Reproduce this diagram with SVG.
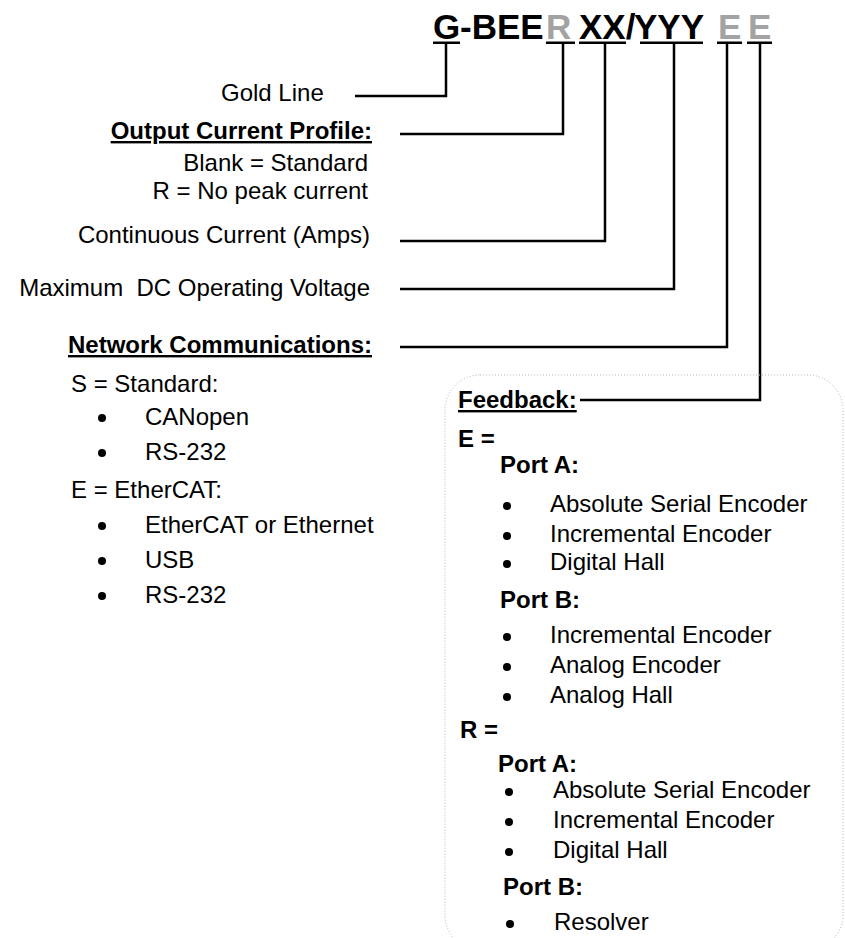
<svg xmlns="http://www.w3.org/2000/svg" width="845" height="938" viewBox="0 0 845 938">
<style>
  text { font-family: "Liberation Sans", Arial, sans-serif; fill: #000; }
  .t { font-size: 24px; }
  .b { font-size: 24px; font-weight: bold; }
  .u { text-decoration: underline; }
  .r { text-anchor: end; }
  .title { font-size: 35px; font-weight: bold; }
  .gray { fill: #a3a3a3; }
  .conn { fill: none; stroke: #000; stroke-width: 2.5; }
  .ul { fill: #000; }
  .box { fill: none; stroke: #b5b5b5; stroke-width: 1; stroke-dasharray: 1 2; }
  .dot { fill: #000; }
</style>
<rect width="845" height="938" fill="#fff"/>

<g id="code">
  <text class="title" x="433" y="39">G</text>
  <text class="title" x="460" y="39">-BEE</text>
  <text class="title gray" x="546" y="39">R</text>
  <text class="title" x="579" y="39">XX/</text>
  <text class="title" x="634" y="39">YYY</text>
  <text class="title gray" x="718" y="39">E</text>
  <text class="title gray" x="748" y="39">E</text>
  <rect class="ul" x="433" y="41.5" width="27" height="2.5"/>
  <rect class="ul" x="546" y="41.5" width="29" height="2.5"/>
  <rect class="ul" x="579" y="41.5" width="47" height="2.5"/>
  <rect class="ul" x="640" y="41.5" width="63" height="2.5"/>
  <rect class="ul" x="717" y="41.5" width="25" height="2.5"/>
  <rect class="ul" x="747" y="41.5" width="25" height="2.5"/>
</g>

<g id="connectors">
  <polyline class="conn" points="446,44 446,96 355,96"/>
  <polyline class="conn" points="563,44 563,134 400,134"/>
  <polyline class="conn" points="605,44 605,241 400,241"/>
  <polyline class="conn" points="674,44 674,289 400,289"/>
  <polyline class="conn" points="727,44 727,347 400,347"/>
  <polyline class="conn" points="760,44 760,400 580,400"/>
</g>

<g id="gold-line">
  <text class="t" x="221" y="101">Gold Line</text>
</g>

<g id="output-current-profile">
  <text class="b u r" x="372" y="139">Output Current Profile:</text>
  <text class="t r" x="368" y="171">Blank = Standard</text>
  <text class="t r" x="368" y="199">R = No peak current</text>
</g>

<g id="continuous-current">
  <text class="t r" x="370" y="243">Continuous Current (Amps)</text>
</g>

<g id="max-voltage">
  <text class="t r" x="370" y="296" xml:space="preserve">Maximum  DC Operating Voltage</text>
</g>

<g id="network-communications">
  <text class="b u r" x="372" y="353">Network Communications:</text>
  <text class="t" x="71" y="392">S = Standard:</text>
  <circle class="dot" cx="102" cy="418" r="4"/>
  <text class="t" x="145" y="425">CANopen</text>
  <circle class="dot" cx="102" cy="453" r="4"/>
  <text class="t" x="145" y="460">RS-232</text>
  <text class="t" x="71" y="498">E = EtherCAT:</text>
  <circle class="dot" cx="102" cy="526" r="4"/>
  <text class="t" x="145" y="533">EtherCAT or Ethernet</text>
  <circle class="dot" cx="102" cy="561" r="4"/>
  <text class="t" x="145" y="568">USB</text>
  <circle class="dot" cx="102" cy="596" r="4"/>
  <text class="t" x="145" y="603">RS-232</text>
</g>

<g id="feedback">
  <rect class="box" x="445" y="375" width="398" height="575" rx="35" ry="35"/>
  <text class="b u" x="458" y="408">Feedback:</text>
  <text class="b" x="458" y="447">E =</text>
  <text class="b" x="500" y="473">Port A:</text>
  <circle class="dot" cx="507" cy="506" r="4"/>
  <text class="t" x="550" y="512">Absolute Serial Encoder</text>
  <circle class="dot" cx="507" cy="536" r="4"/>
  <text class="t" x="550" y="542">Incremental Encoder</text>
  <circle class="dot" cx="507" cy="564" r="4"/>
  <text class="t" x="550" y="570">Digital Hall</text>
  <text class="b" x="500" y="608">Port B:</text>
  <circle class="dot" cx="507" cy="637" r="4"/>
  <text class="t" x="550" y="643">Incremental Encoder</text>
  <circle class="dot" cx="507" cy="667" r="4"/>
  <text class="t" x="550" y="673">Analog Encoder</text>
  <circle class="dot" cx="507" cy="697" r="4"/>
  <text class="t" x="550" y="703">Analog Hall</text>
  <text class="b" x="460" y="738">R =</text>
  <text class="b" x="498" y="772">Port A:</text>
  <circle class="dot" cx="509" cy="792" r="4"/>
  <text class="t" x="553" y="798">Absolute Serial Encoder</text>
  <circle class="dot" cx="509" cy="822" r="4"/>
  <text class="t" x="553" y="828">Incremental Encoder</text>
  <circle class="dot" cx="509" cy="852" r="4"/>
  <text class="t" x="553" y="858">Digital Hall</text>
  <text class="b" x="503" y="895">Port B:</text>
  <circle class="dot" cx="510" cy="924" r="4"/>
  <text class="t" x="554" y="930">Resolver</text>
</g>
</svg>
